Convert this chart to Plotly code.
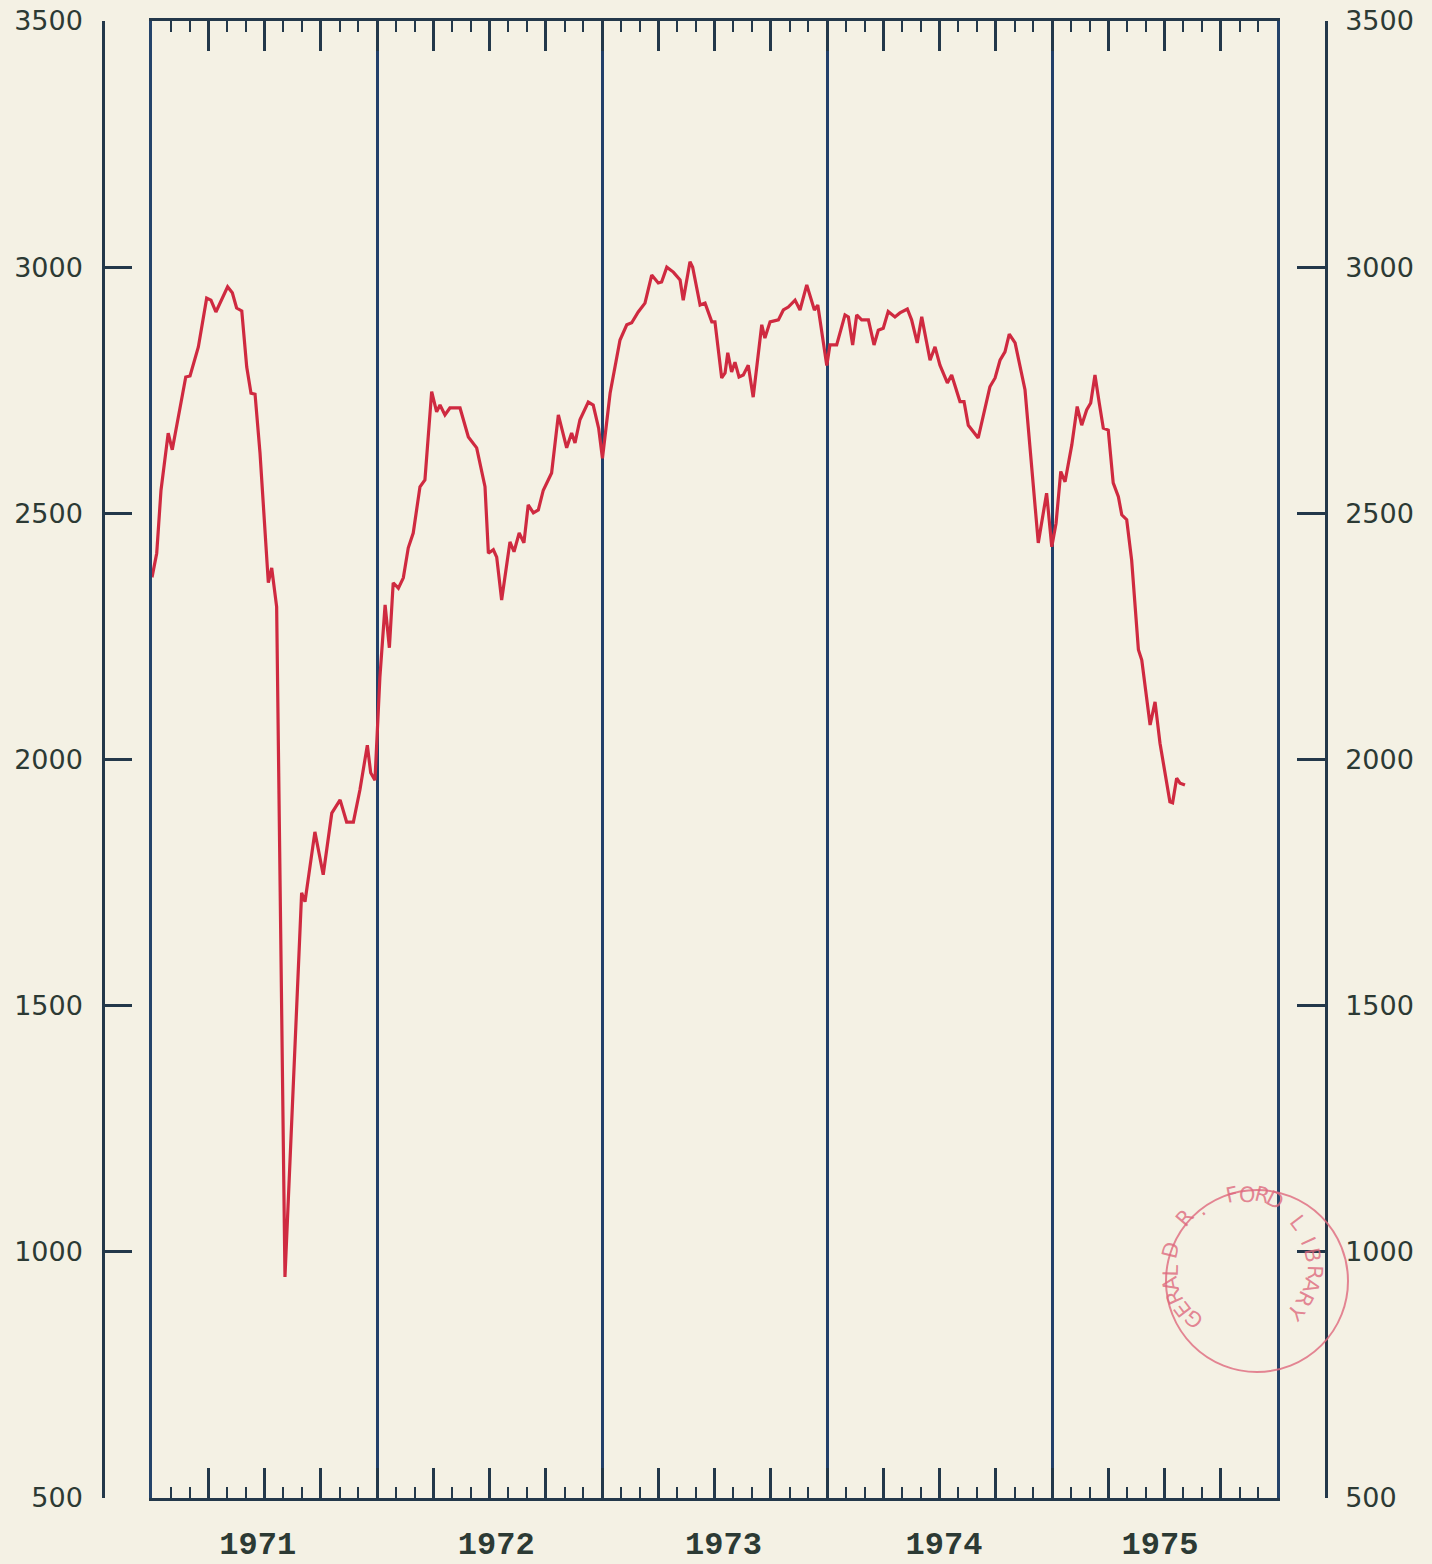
import math
import plotly.graph_objects as go

# ---------------- data (decimal year, value) ----------------
t_1971 = [1971.000, 1971.021, 1971.040, 1971.072, 1971.090, 1971.117, 1971.150, 1971.169,
          1971.206, 1971.243, 1971.262, 1971.284, 1971.310, 1971.336, 1971.357, 1971.376,
          1971.399, 1971.421, 1971.440, 1971.458, 1971.480, 1971.502, 1971.517, 1971.532,
          1971.554, 1971.591, 1971.665, 1971.680, 1971.724, 1971.761, 1971.799, 1971.836,
          1971.865, 1971.895, 1971.924, 1971.957, 1971.972, 1971.991]
v_1971 = [2370, 2419, 2547, 2663, 2629, 2696, 2777, 2779,
          2838, 2937, 2933, 2909, 2933, 2960, 2948, 2917,
          2911, 2797, 2744, 2742, 2623, 2452, 2359, 2389,
          2310, 949, 1729, 1711, 1853, 1766, 1891, 1918,
          1873, 1873, 1938, 2029, 1973, 1958]

t_1972 = [1972.013, 1972.036, 1972.055, 1972.072, 1972.095, 1972.117, 1972.139, 1972.161,
          1972.191, 1972.213, 1972.243, 1972.265, 1972.280, 1972.302, 1972.324, 1972.369,
          1972.406, 1972.443, 1972.480, 1972.495, 1972.517, 1972.532, 1972.554, 1972.591,
          1972.609, 1972.632, 1972.653, 1972.672, 1972.695, 1972.717, 1972.739, 1972.776,
          1972.806, 1972.843, 1972.865, 1972.880, 1972.902, 1972.939, 1972.961, 1972.985]
v_1972 = [2168, 2314, 2227, 2359, 2348, 2369, 2430, 2460,
          2554, 2568, 2747, 2706, 2720, 2700, 2714, 2714,
          2655, 2633, 2554, 2419, 2426, 2411, 2324, 2442,
          2422, 2460, 2440, 2517, 2501, 2507, 2547, 2582,
          2700, 2633, 2663, 2643, 2690, 2726, 2720, 2673]

t_1973 = [1973.002, 1973.036, 1973.080, 1973.110, 1973.132, 1973.161, 1973.191, 1973.221,
          1973.250, 1973.265, 1973.288, 1973.317, 1973.347, 1973.361, 1973.391, 1973.403,
          1973.436, 1973.458, 1973.488, 1973.502, 1973.532, 1973.547, 1973.559, 1973.576,
          1973.591, 1973.609, 1973.628, 1973.650, 1973.672, 1973.710, 1973.724, 1973.747,
          1973.784, 1973.806, 1973.828, 1973.858, 1973.880, 1973.910, 1973.944, 1973.959,
          1973.999]
v_1973 = [2612, 2744, 2852, 2883, 2887, 2909, 2927, 2984,
          2968, 2970, 3000, 2990, 2974, 2933, 3011, 3000,
          2923, 2927, 2889, 2889, 2775, 2785, 2826, 2787,
          2807, 2777, 2781, 2801, 2736, 2883, 2856, 2889,
          2893, 2913, 2919, 2933, 2913, 2964, 2913, 2923,
          2800]

t_1974 = [1974.013, 1974.043, 1974.080, 1974.095, 1974.114, 1974.132, 1974.154, 1974.184,
          1974.209, 1974.228, 1974.250, 1974.272, 1974.302, 1974.324, 1974.357, 1974.376,
          1974.401, 1974.421, 1974.458, 1974.480, 1974.502, 1974.535, 1974.554, 1974.591,
          1974.609, 1974.628, 1974.672, 1974.702, 1974.724, 1974.747, 1974.769, 1974.791,
          1974.810, 1974.836, 1974.880, 1974.939, 1974.976, 1974.999]
v_1974 = [2842, 2842, 2903, 2899, 2842, 2903, 2893, 2893,
          2842, 2872, 2876, 2910, 2899, 2907, 2915, 2893,
          2846, 2899, 2811, 2838, 2801, 2765, 2781, 2727,
          2727, 2679, 2653, 2717, 2757, 2775, 2811, 2828,
          2864, 2846, 2751, 2440, 2541, 2432]

t_1975 = [1975.018, 1975.039, 1975.058, 1975.088, 1975.112, 1975.132, 1975.154, 1975.172,
          1975.191, 1975.210, 1975.228, 1975.250, 1975.272, 1975.295, 1975.310, 1975.332,
          1975.354, 1975.384, 1975.399, 1975.436, 1975.458, 1975.480, 1975.524, 1975.536,
          1975.554, 1975.569, 1975.591]
v_1975 = [2480, 2585, 2564, 2639, 2717, 2679, 2710, 2724,
          2781, 2724, 2673, 2669, 2562, 2534, 2497, 2487,
          2405, 2223, 2202, 2070, 2117, 2033, 1914, 1912,
          1962, 1952, 1948]

y_ticks = [500, 1000, 1500, 2000, 2500, 3000, 3500]
year_boundaries = [1972, 1973, 1974, 1975]
year_label_pos = [1971.47, 1972.53, 1973.54, 1974.52, 1975.48]
year_labels = ["1971", "1972", "1973", "1974", "1975"]
x_range = [1971, 1976]
y_range = [500, 3500]

stamp_text = "GERALD R. FORD LIBRARY"

t_all = t_1971 + t_1972 + t_1973 + t_1974 + t_1975
v_all = v_1971 + v_1972 + v_1973 + v_1974 + v_1975

# ---------------- styling ----------------
W, H = 1432, 1564
BG = "#F4F1E4"
AX = "#23384a"
RED = "#cf2a40"
TXT = "#2c3a34"

x_dom = [152 / W, 1277 / W]
y_dom = [1 - 1498 / H, 1 - 21 / H]

fig = go.Figure()
fig.add_trace(go.Scatter(x=t_all, y=v_all, mode="lines",
                         line=dict(color=RED, width=3.2), hoverinfo="skip",
                         showlegend=False))
# invisible helpers so that the overlay axes render
for xa, ya in [("x2", "y"), ("x3", "y"), ("x", "y2"), ("x", "y3")]:
    fig.add_trace(go.Scatter(x=t_all, y=v_all, xaxis=xa, yaxis=ya, mode="lines",
                             opacity=0, hoverinfo="skip", showlegend=False))

common_y = dict(range=y_range, showgrid=False, zeroline=False, fixedrange=True,
                automargin=False)
common_x = dict(domain=x_dom, range=x_range, zeroline=False, automargin=False,
                fixedrange=True)

fig.update_layout(
    width=W, height=H, autosize=False,
    margin=dict(l=0, r=0, t=0, b=0, pad=0),
    paper_bgcolor=BG, plot_bgcolor=BG,
    xaxis=dict(anchor="y", showgrid=False,
               showline=True, linecolor=AX, linewidth=2.5, mirror="ticks",
               tickmode="linear", tick0=1971, dtick=0.25, ticks="inside",
               ticklen=30, tickwidth=2.5, tickcolor=AX, showticklabels=False,
               minor=dict(tickmode="linear", tick0=1971, dtick=1 / 12, ticks="inside",
                          ticklen=11, tickwidth=2, tickcolor=AX, showgrid=False),
               **common_x),
    xaxis2=dict(overlaying="x", anchor="y",
                tickmode="array", tickvals=year_boundaries, showgrid=True,
                gridcolor="#22406a", gridwidth=2.5, ticks="", showticklabels=False,
                showline=False, **common_x),
    xaxis3=dict(overlaying="x", anchor="y",
                tickmode="array", tickvals=year_label_pos, ticktext=year_labels,
                ticks="outside", ticklen=17, tickcolor="rgba(0,0,0,0)",
                showgrid=False, showline=False,
                tickfont=dict(family="Liberation Mono", size=32, color=TXT,
                              weight="bold"),
                **common_x),
    yaxis=dict(domain=y_dom, anchor="x", showline=True, mirror=True,
               linecolor="#24436a", linewidth=2.5, ticks="", showticklabels=False,
               **common_y),
    yaxis2=dict(domain=y_dom, overlaying="y", anchor="free", position=103 / W,
                side="left", showline=True, linecolor=AX, linewidth=2.5,
                tickmode="array", tickvals=y_ticks, ticks="inside", ticklen=27,
                tickwidth=2.5, tickcolor=AX, ticklabelstandoff=14,
                tickfont=dict(family="DejaVu Sans", size=27, color=TXT), **common_y),
    yaxis3=dict(domain=y_dom, overlaying="y", anchor="free", position=1326 / W,
                side="right", showline=True, linecolor=AX, linewidth=2.5,
                tickmode="array", tickvals=y_ticks, ticks="inside", ticklen=28,
                tickwidth=2.5, tickcolor=AX, ticklabelstandoff=12,
                tickfont=dict(family="DejaVu Sans", size=27, color=TXT), **common_y),
)

# ---------------- archival library stamp (decoration) ----------------
cx, cy, R = 1257, 1281, 91
PINK = "rgba(222,105,125,0.8)"
fig.add_shape(type="circle", xref="paper", yref="paper",
              x0=(cx - R) / W, x1=(cx + R) / W, y0=1 - (cy + R) / H, y1=1 - (cy - R) / H,
              line=dict(color=PINK, width=2))
n = len(stamp_text)
a0, a1 = -140, 130
for i, ch in enumerate(stamp_text):
    if ch == " ":
        continue
    ang = a0 + (a1 - a0) * i / (n - 1)
    r = 72
    px = cx + r * math.sin(math.radians(ang))
    py = cy - r * math.cos(math.radians(ang))
    fig.add_annotation(x=px / W, y=1 - py / H, xref="paper", yref="paper",
                       text=ch, showarrow=False, textangle=ang,
                       font=dict(family="DejaVu Sans", size=21, color=PINK))

fig.write_html("out.html", config={"displayModeBar": False},
               post_script="document.body.style.margin='0px';")
